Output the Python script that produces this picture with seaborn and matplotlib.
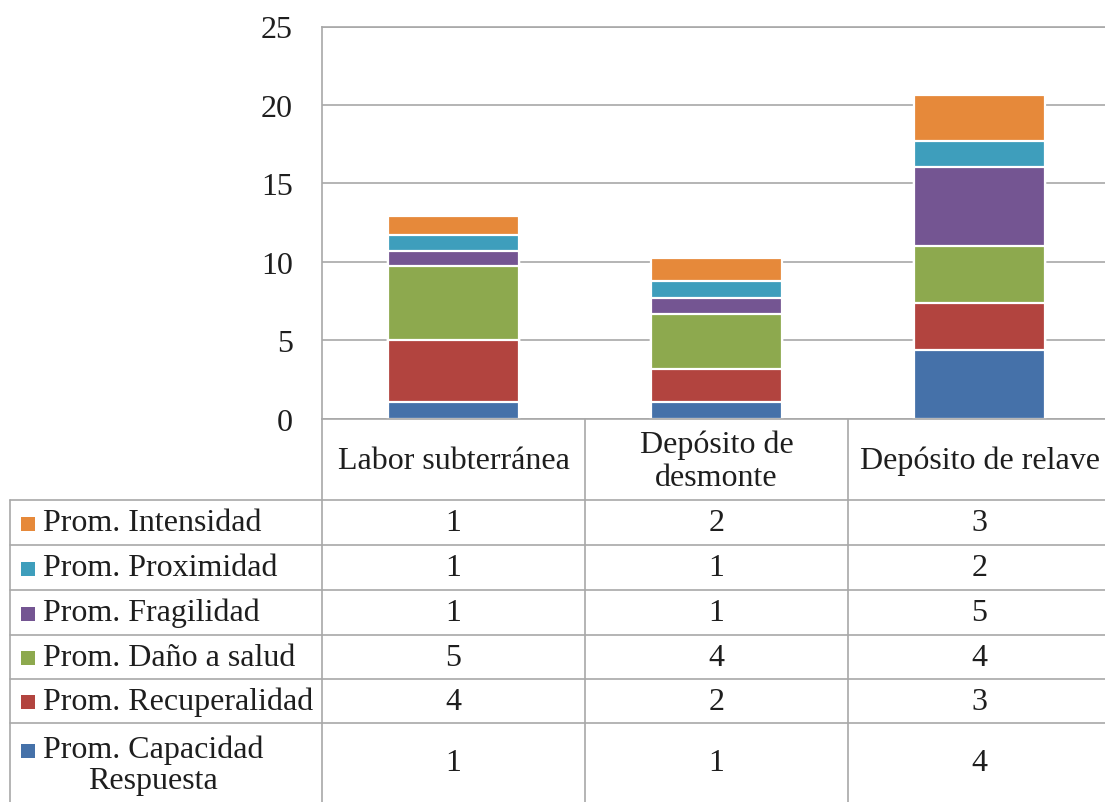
import numpy as np
import pandas as pd
import matplotlib
matplotlib.use("Agg")
import matplotlib.pyplot as plt
import matplotlib.transforms as mtransforms
from matplotlib.patches import Rectangle
import seaborn as sns

# ---- data -------------------------------------------------------------
categories = ["Labor subterránea", "Depósito de desmonte", "Depósito de relave"]
header_labels = ["Labor subterránea", "Depósito de\ndesmonte", "Depósito de relave"]

series_names = [
    "Prom. Capacidad\nRespuesta",
    "Prom. Recuperalidad",
    "Prom. Daño a salud",
    "Prom. Fragilidad",
    "Prom. Proximidad",
    "Prom. Intensidad",
]
capacidad = [1.08, 1.05, 4.40]
recuperalidad = [3.96, 2.12, 2.98]
dano_salud = [4.68, 3.52, 3.66]
fragilidad = [1.00, 1.00, 5.00]
proximidad = [1.00, 1.06, 1.64]
intensidad = [1.19, 1.52, 2.94]
series_values = [capacidad, recuperalidad, dano_salud, fragilidad, proximidad, intensidad]

colors = ["#4571A9", "#B2443F", "#8DA94E", "#745592", "#3E9EBC", "#E6893A"]
y_ticks = [0, 5, 10, 15, 20, 25]

# ---- style ------------------------------------------------------------
sns.set_style("white")
plt.rcParams["font.family"] = ["Liberation Serif", "DejaVu Serif"]
FS = 23
GRID = "#a8a8a8"
TXT = "#1e1e1e"

W, H = 1105, 803
fig = plt.figure(figsize=(W / 100, H / 100), dpi=100)


def fx(px):
    return px / W


def fy(py):
    return 1 - py / H


ax_left, ax_right, ax_top, ax_bottom = 322, 1111, 27.5, 419.7
ax = fig.add_axes([fx(ax_left), fy(ax_bottom), fx(ax_right - ax_left), (ax_bottom - ax_top) / H])

# ---- stacked bars (drawn as cumulative totals, tallest first) --------
df = pd.DataFrame({name: vals for name, vals in zip(series_names, series_values)},
                  index=categories)
cum = df.cumsum(axis=1)
for i in range(len(series_names) - 1, -1, -1):
    sns.barplot(x=categories, y=cum.iloc[:, i].values, color=colors[i],
                saturation=1, width=0.5, edgecolor="white", linewidth=1.6, ax=ax)

ax.set_ylim(0, 25)
ax.set_xlim(-0.5, 2.5)
ax.set_yticks(y_ticks)
ax.set_yticklabels([str(t) for t in y_ticks], fontsize=FS, color=TXT)
ax.tick_params(axis="y", direction="out", length=4, width=1.2, color=GRID, pad=17)
ax.tick_params(axis="x", length=0, labelbottom=False)
ax.set_xlabel("")
ax.set_ylabel("")
ax.yaxis.grid(True, color=GRID, linewidth=1.2)
ax.set_axisbelow(True)
for side in ["top", "bottom", "left"]:
    ax.spines[side].set_color(GRID)
    ax.spines[side].set_linewidth(1.2)
ax.spines["right"].set_visible(False)

# ---- data table beneath the axis -------------------------------------
row_edges = [420, 501, 546, 591, 636, 680, 724, 803]
blend = mtransforms.blended_transform_factory(ax.transData, fig.transFigure)

# horizontal rules
for yy in row_edges[1:-1]:
    fig.add_artist(plt.Line2D([fx(10), 1.0], [fy(yy), fy(yy)], transform=fig.transFigure,
                              color=GRID, linewidth=1.2))
# vertical rules
fig.add_artist(plt.Line2D([fx(10), fx(10)], [fy(501), fy(803)], transform=fig.transFigure,
                          color=GRID, linewidth=1.2))
for xb in [-0.5, 0.5, 1.5]:
    fig.add_artist(plt.Line2D([xb, xb], [fy(420), fy(803)], transform=blend,
                              color=GRID, linewidth=1.2))

# column headers
for j, lab in enumerate(header_labels):
    fig.text(j, fy((row_edges[0] + row_edges[1]) / 2 + 1), lab, transform=blend,
             ha="center", va="center", fontsize=FS, color=TXT, linespacing=1.2)

# rows: top row is the last series (matches the stacking order)
for r, i in enumerate(range(len(series_names) - 1, -1, -1)):
    y0, y1 = row_edges[r + 1], row_edges[r + 2]
    yc = (y0 + y1) / 2
    name = series_names[i]
    if "\n" in name:
        fig.text(fx(43), fy(yc + 2), name, ha="left", va="center", fontsize=FS,
                 color=TXT, multialignment="center", linespacing=1.1)
        my = 752
    else:
        fig.text(fx(43), fy(yc), name, ha="left", va="center", fontsize=FS, color=TXT)
        my = yc + 1
    fig.add_artist(Rectangle((fx(21), fy(my + 7)), fx(14), 14 / H,
                             transform=fig.transFigure, color=colors[i], lw=0))
    for j in range(len(categories)):
        val = series_values[i][j]
        fig.text(j, fy(yc), f"{int(val + 0.5)}", transform=blend,
                 ha="center", va="center", fontsize=FS, color=TXT)

fig.savefig("out.png", dpi=100)
